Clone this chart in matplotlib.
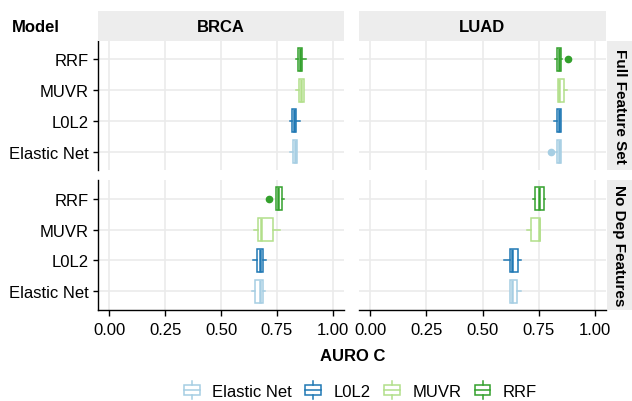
import matplotlib.pyplot as plt
from matplotlib.legend_handler import HandlerBase
from matplotlib.patches import Rectangle
from matplotlib.lines import Line2D

plt.rcParams['font.family'] = ['Liberation Sans', 'DejaVu Sans']

# models drawn bottom to top
models = ["Elastic Net", "L0L2", "MUVR", "RRF"]
colors = ["#A6CEE3", "#1F78B4", "#B2DF8A", "#33A02C"]
cancers = ["BRCA", "LUAD"]
feature_sets = ["Full Feature Set", "No Dep Features"]
x_ticks = [0.0, 0.25, 0.5, 0.75, 1.0]
x_tick_labels = ["0.00", "0.25", "0.50", "0.75", "1.00"]

# box stats per model: (whisker low, q1, median, q3, whisker high)
brca_full = [(0.810, 0.821, 0.830, 0.840, 0.842),
             (0.809, 0.816, 0.826, 0.836, 0.852),
             (0.837, 0.850, 0.856, 0.872, 0.873),
             (0.834, 0.843, 0.852, 0.861, 0.878)]
luad_full = [(0.826, 0.833, 0.840, 0.849, 0.850),
             (0.820, 0.831, 0.840, 0.848, 0.849),
             (0.838, 0.838, 0.842, 0.863, 0.876),
             (0.824, 0.831, 0.840, 0.851, 0.852)]
brca_nodep = [(0.640, 0.651, 0.674, 0.687, 0.695),
              (0.642, 0.661, 0.674, 0.687, 0.700),
              (0.649, 0.664, 0.677, 0.732, 0.764),
              (0.748, 0.748, 0.755, 0.773, 0.781)]
luad_nodep = [(0.623, 0.623, 0.633, 0.653, 0.672),
              (0.596, 0.621, 0.631, 0.656, 0.672),
              (0.697, 0.718, 0.752, 0.757, 0.757),
              (0.724, 0.733, 0.752, 0.772, 0.780)]

brca_full_out = [[], [], [], []]
luad_full_out = [[0.805], [], [], [0.882]]
brca_nodep_out = [[], [], [], [0.713]]
luad_nodep_out = [[], [], [], []]

panel_stats = [[brca_full, luad_full], [brca_nodep, luad_nodep]]
panel_out = [[brca_full_out, luad_full_out], [brca_nodep_out, luad_nodep_out]]

W, H = 632, 402
fig = plt.figure(figsize=(W / 100, H / 100), dpi=100)


def px_axes(x0, y0, x1, y1):
    return fig.add_axes([x0 / W, 1 - y1 / H, (x1 - x0) / W, (y1 - y0) / H])


col_x = [(98, 344), (359, 606)]
row_y = [(42, 171), (181, 311)]
strip_col = "#EDEDED"
fs = 12

for r, (y0, y1) in enumerate(row_y):
    for c, (x0, x1) in enumerate(col_x):
        ax = px_axes(x0, y0, x1, y1)
        ax.set_axisbelow(True)
        for i, s in enumerate(panel_stats[r][c]):
            st = dict(whislo=s[0], q1=s[1], med=s[2], q3=s[3], whishi=s[4],
                      fliers=panel_out[r][c][i])
            ax.bxp([st], positions=[i + 1], orientation='horizontal', widths=0.75,
                   patch_artist=True, showcaps=False,
                   boxprops=dict(facecolor='white', edgecolor=colors[i], linewidth=1.1),
                   medianprops=dict(color=colors[i], linewidth=1.8),
                   whiskerprops=dict(color=colors[i], linewidth=1.1),
                   flierprops=dict(marker='o', markerfacecolor=colors[i],
                                   markeredgecolor=colors[i], markersize=4.5))
        ax.set_xlim(-0.05, 1.05)
        ax.set_ylim(0.4, 4.6)
        ax.grid(color='#EBEBEB', linewidth=1.2)
        ax.set_xticks(x_ticks)
        ax.set_yticks(range(1, len(models) + 1))
        for sp in ax.spines.values():
            sp.set_visible(False)
        if c == 0:
            ax.spines['left'].set_visible(True)
            ax.spines['left'].set_linewidth(1.0)
            ax.set_yticklabels(models, fontsize=fs)
            ax.tick_params(axis='y', length=3.5, width=1.0, pad=3)
        else:
            ax.set_yticklabels([])
            ax.tick_params(axis='y', length=0)
        if r == 1:
            ax.spines['bottom'].set_visible(True)
            ax.spines['bottom'].set_linewidth(1.0)
            ax.set_xticklabels(x_tick_labels, fontsize=fs)
            ax.tick_params(axis='x', length=4, width=1.0, pad=4.5)
        else:
            ax.set_xticklabels([])
            ax.tick_params(axis='x', length=0)

        if r == 0:
            sax = px_axes(x0, 12, x1, 42)
            sax.set_facecolor(strip_col)
            sax.set_xticks([]); sax.set_yticks([])
            for sp in sax.spines.values():
                sp.set_visible(False)
            sax.text(0.5, 0.5, cancers[c], ha='center', va='center',
                     fontsize=fs, fontweight='bold', transform=sax.transAxes)
        if c == 1:
            sax = px_axes(607, y0, 632, y1)
            sax.set_facecolor(strip_col)
            sax.set_xticks([]); sax.set_yticks([])
            for sp in sax.spines.values():
                sp.set_visible(False)
            sax.text(0.5, 0.5, feature_sets[r], ha='center', va='center', rotation=-90,
                     fontsize=11, fontweight='bold', transform=sax.transAxes)

fig.text(12 / W, 1 - 27 / H, "Model", ha='left', va='center', fontsize=fs, fontweight='bold')
fig.text(353 / W, 1 - 357 / H, "AURO C", ha='center', va='center', fontsize=fs, fontweight='bold')


class BoxKey(HandlerBase):
    def create_artists(self, legend, orig_handle, xdescent, ydescent, width, height, fontsize, trans):
        col = orig_handle.get_edgecolor()
        bw = width * 0.9
        bx = (width - bw) / 2 - xdescent
        rect = Rectangle((bx, -ydescent + height * 0.1), bw, height * 0.8,
                         facecolor='white', edgecolor=col, linewidth=1.1, transform=trans)
        cy = -ydescent + height / 2
        med = Line2D([bx, bx + bw], [cy, cy], color=col, linewidth=1.1, transform=trans)
        cx = bx + bw / 2
        wt = Line2D([cx, cx], [-ydescent + height * 0.9, -ydescent + height * 1.2],
                    color=col, linewidth=1.1, transform=trans)
        wb = Line2D([cx, cx], [-ydescent - height * 0.2, -ydescent + height * 0.1],
                    color=col, linewidth=1.1, transform=trans)
        return [rect, med, wt, wb]


handles = [Rectangle((0, 0), 1, 1, facecolor='white', edgecolor=col) for col in colors]
fig.legend(handles, models, handler_map={Rectangle: BoxKey()}, loc='center',
           bbox_to_anchor=(360 / W, 1 - 392 / H), ncol=4, frameon=False,
           fontsize=fs, handlelength=1.05, handleheight=0.8, handletextpad=0.7,
           columnspacing=0.75, borderpad=0.2)

fig.savefig("out.png", dpi=100)
